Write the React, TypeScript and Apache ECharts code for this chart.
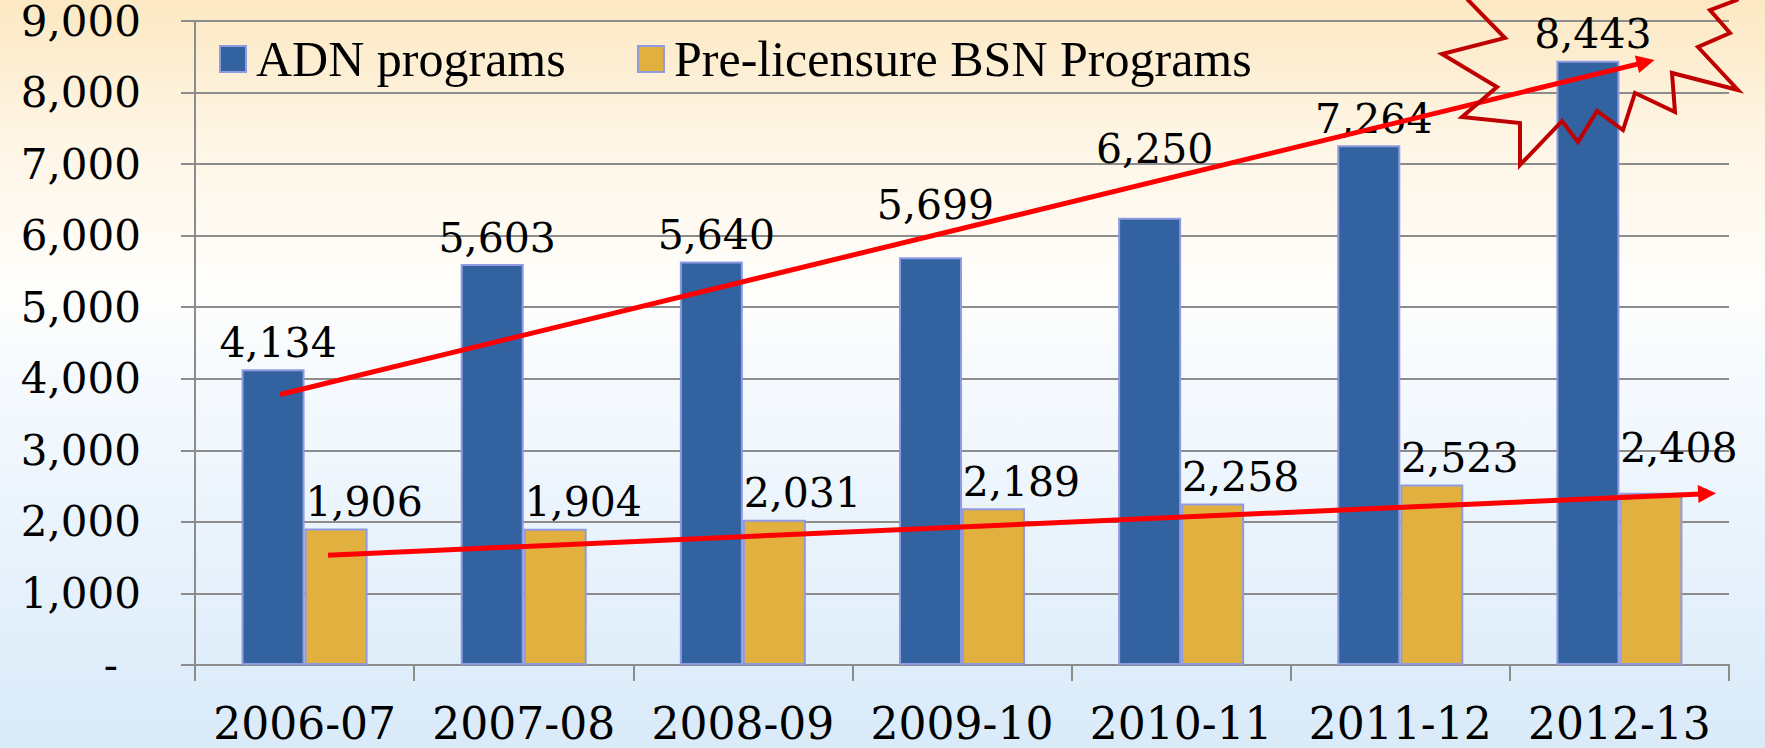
import React, { useEffect, useRef } from "react";
import * as echarts from "echarts";

const categories = ["2006-07", "2007-08", "2008-09", "2009-10", "2010-11", "2011-12", "2012-13"];
const adnValues = [4134, 5603, 5640, 5699, 6250, 7264, 8443];
const bsnValues = [1906, 1904, 2031, 2189, 2258, 2523, 2408];
const seriesNames = ["ADN programs", "Pre-licensure BSN Programs"];
const yMin = 0;
const yMax = 9000;
const yInterval = 1000;
// trend arrows in data space: x = category index (+fraction), y = value
const adnTrend = [[-0.112, 3781], [6.12, 8426]];
const bsnTrend = [[0.107, 1535], [6.4, 2394]];

const NUM_FONT = "'DejaVu Serif', serif";
const TXT_FONT = "'Liberation Serif', 'Times New Roman', serif";

export default function App() {
  const ref = useRef<HTMLDivElement>(null);

  useEffect(() => {
    if (!ref.current) return;
    const chart = echarts.init(ref.current, null, { renderer: "svg" });

    const adnLift: Record<number, number> = { 3: -26, 4: -42 };
    const bsnLift: Record<number, number> = { 6: -18 };

    const adnData = adnValues.map((v, i) =>
      adnLift[i] !== undefined ? { value: v, label: { offset: [5, adnLift[i]] } } : v
    );
    const bsnData = bsnValues.map((v, i) =>
      bsnLift[i] !== undefined ? { value: v, label: { offset: [28, bsnLift[i]] } } : v
    );

    const labelBase = {
      show: true,
      position: "top" as const,
      distance: 6,
      color: "#000",
      fontFamily: NUM_FONT,
      fontSize: 41,
      formatter: (p: any) => Number(p.value).toLocaleString("en-US"),
    };

    const barBorder = { borderColor: "#8F9AE0", borderWidth: 2 };

    const starPoints = [
      [1440, -40],
      [1468, 0],
      [1505, 38],
      [1442, 54],
      [1497, 87],
      [1462, 117],
      [1520, 123],
      [1520, 165],
      [1562, 121],
      [1578, 142],
      [1597, 111],
      [1623, 130],
      [1635, 93],
      [1675, 112],
      [1672, 73],
      [1738, 90],
      [1698, 47],
      [1730, 33],
      [1710, 10],
      [1737, 0],
      [1760, -40],
    ];

    chart.setOption({
      animation: false,
      backgroundColor: {
        type: "linear",
        x: 0,
        y: 0,
        x2: 0,
        y2: 1,
        colorStops: [
          { offset: 0, color: "#FCE8C2" },
          { offset: 0.18, color: "#FEF5E4" },
          { offset: 0.38, color: "#FFFEFB" },
          { offset: 0.5, color: "#F6FAFE" },
          { offset: 1, color: "#D9EAF9" },
        ],
      },
      grid: { left: 195, right: 36, top: 20, bottom: 83, containLabel: false },
      legend: [
        {
          data: [seriesNames[0]],
          left: 214,
          top: 28,
          itemWidth: 26,
          itemHeight: 26,
          icon: "rect",
          textStyle: { fontFamily: TXT_FONT, fontSize: 50, color: "#000", padding: [0, 0, 0, 5], lineHeight: 52 },
        },
        {
          data: [seriesNames[1]],
          left: 632,
          top: 28,
          itemWidth: 26,
          itemHeight: 26,
          icon: "rect",
          textStyle: { fontFamily: TXT_FONT, fontSize: 50, color: "#000", padding: [0, 0, 0, 5], lineHeight: 52 },
        },
      ],
      xAxis: [
        {
          type: "category",
          data: categories,
          boundaryGap: true,
          axisLine: { show: true, lineStyle: { color: "#8C8C8C", width: 2 } },
          axisTick: { show: true, length: 16, interval: 0, lineStyle: { color: "#8C8C8C", width: 2 } },
          axisLabel: { margin: 36, interval: 0, hideOverlap: false, color: "#000", fontFamily: NUM_FONT, fontSize: 44 },
          splitLine: { show: false },
        },
        {
          type: "value",
          min: -0.5,
          max: 6.5,
          show: false,
          splitLine: { show: false },
          axisLine: { show: false, onZero: false },
        },
      ],
      yAxis: {
        type: "value",
        min: yMin,
        max: yMax,
        interval: yInterval,
        axisLine: { show: true, onZero: false, lineStyle: { color: "#8C8C8C", width: 2 } },
        axisTick: { show: true, length: 14, lineStyle: { color: "#8C8C8C", width: 2 } },
        splitLine: { show: true, lineStyle: { color: "#8C8C8C", width: 2 } },
        axisLabel: {
          margin: 54,
          color: "#000",
          fontFamily: NUM_FONT,
          fontSize: 42,
          lineHeight: 36,
          formatter: (v: number) => (v === 0 ? "{dash|-}" : v.toLocaleString("en-US")),
          rich: {
            dash: { fontFamily: NUM_FONT, fontSize: 42, lineHeight: 36, color: "#000", padding: [0, 23, 0, 0] },
          },
        },
      },
      series: [
        {
          name: seriesNames[0],
          type: "bar",
          data: adnData,
          barWidth: 63,
          barGap: "0%",
          itemStyle: { color: "#3263A0", ...barBorder },
          label: { ...labelBase, offset: [5, 0] },
          z: 2,
        },
        {
          name: seriesNames[1],
          type: "bar",
          data: bsnData,
          barWidth: 63,
          barGap: "0%",
          itemStyle: { color: "#E1B03E", ...barBorder },
          label: { ...labelBase, offset: [28, 0] },
          z: 2,
        },
        {
          type: "lines",
          coordinateSystem: "cartesian2d",
          xAxisIndex: 1,
          yAxisIndex: 0,
          symbol: ["none", "triangle"],
          symbolSize: [15, 18],
          lineStyle: { color: "#FF0000", width: 5, opacity: 1, curveness: 0 },
          z: 5,
          silent: true,
          data: [{ coords: adnTrend }, { coords: bsnTrend }],
        },
      ],
      graphic: [
        {
          type: "polygon",
          z: 10,
          silent: true,
          shape: { points: starPoints },
          style: { fill: "none", stroke: "#C00000", lineWidth: 4, lineJoin: "miter" },
        },
      ],
    });

    return () => chart.dispose();
  }, []);

  return (
    <div
      ref={ref}
      style={{ position: "fixed", left: 0, top: 0, width: 1765, height: 748 }}
    />
  );
}
